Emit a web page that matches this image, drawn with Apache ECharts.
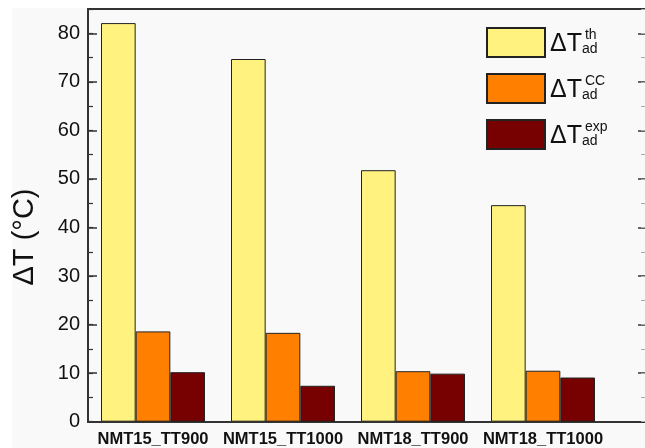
<!DOCTYPE html>
<html>
<head>
<meta charset="utf-8">
<script src="https://cdn.jsdelivr.net/npm/echarts@6/dist/echarts.min.js"></script>
<style>html,body{margin:0;padding:0;background:#fff}#c{width:645px;height:448px}</style>
</head>
<body>
<div id="c"></div>
<script>
var categories = ['NMT15_TT900', 'NMT15_TT1000', 'NMT18_TT900', 'NMT18_TT1000'];
var seriesNames = ['th', 'CC', 'exp'];
var thValues = [82.1, 74.7, 51.8, 44.6];
var ccValues = [18.6, 18.3, 10.4, 10.5];
var expValues = [10.2, 7.4, 9.9, 9.1];
var yMin = 0, yMax = 85, yStep = 10;
var colors = ['#fff27f', '#ff8000', '#770000'];

var FONT = '"Liberation Sans", Arial, sans-serif';
var chart = echarts.init(document.getElementById('c'), null, {renderer: 'canvas'});

var axisLineStyle = {color: '#333', width: 2};
function frameGrid() { return {left: 88, top: 9, right: 0, bottom: 26.3, containLabel: false}; }
function hiddenX(i) {
  return {type: 'value', gridIndex: i, min: 0, max: 1, show: false};
}
function tickY(i, pos, step, len, color, width, showLine) {
  return {type: 'value', gridIndex: i, min: yMin, max: yMax, interval: step, position: pos,
    axisLine: {show: showLine, onZero: false, lineStyle: axisLineStyle},
    axisTick: {show: true, inside: true, length: len, lineStyle: {color: color, width: width}},
    axisLabel: {show: false}, splitLine: {show: false}};
}
var option = {
  backgroundColor: '#ffffff',
  animation: false,
  graphic: [
    {type: 'rect', z: -10, silent: true, shape: {x: 12, y: 8, width: 640, height: 445}, style: {fill: '#f9f9f9'}},
    {type: 'text', x: 25, y: 237, rotation: Math.PI / 2, z: 10,
      style: {text: 'ΔT (°C)', font: '29px ' + FONT, fill: '#111', align: 'center', verticalAlign: 'middle'}}
  ],
  grid: [
    {left: 88, top: 9, width: 520, bottom: 26.3, containLabel: false},
    frameGrid(), frameGrid(), frameGrid()
  ],
  legend: {
    orient: 'vertical', left: 486, top: 27, padding: 0,
    itemWidth: 58, itemHeight: 29, itemGap: 15,
    data: seriesNames,
    icon: 'rect',
    formatter: function (name) {
      return '{d|ΔT}{u|' + name + '}\n{p|}{l|ad}';
    },
    textStyle: {
      padding: [0, 0, 0, 0],
      rich: {
        d: {fontSize: 25, lineHeight: 14, verticalAlign: 'top', fontFamily: FONT, color: '#111', padding: [3, 0, 0, 0]},
        u: {fontSize: 14, lineHeight: 14, fontFamily: FONT, color: '#111', padding: [0, 0, 0, 3]},
        p: {width: 32, lineHeight: 14},
        l: {fontSize: 14, lineHeight: 14, fontFamily: FONT, color: '#111'}
      }
    }
  },
  xAxis: [
    {type: 'category', gridIndex: 0, data: categories, position: 'bottom',
      axisLine: {lineStyle: axisLineStyle}, axisTick: {show: false},
      axisLabel: {interval: 0, fontSize: 16.5, fontWeight: 'bold', fontFamily: FONT, color: '#111', margin: 9},
      splitLine: {show: false}},
    {type: 'value', gridIndex: 1, min: 0, max: 1, position: 'top',
      axisLine: {show: true, onZero: false, lineStyle: axisLineStyle}, axisTick: {show: false},
      axisLabel: {show: false}, splitLine: {show: false}},
    {type: 'value', gridIndex: 2, min: 0, max: 1, position: 'bottom',
      axisLine: {show: true, onZero: false, lineStyle: axisLineStyle}, axisTick: {show: false},
      axisLabel: {show: false}, splitLine: {show: false}},
    hiddenX(3)
  ],
  yAxis: [
    {type: 'value', gridIndex: 0, min: yMin, max: yMax, interval: yStep, position: 'left',
      axisLine: {show: true, lineStyle: axisLineStyle},
      axisTick: {show: true, inside: true, length: 9, lineStyle: {color: '#333', width: 1.5}},
      axisLabel: {fontSize: 20, fontFamily: FONT, color: '#111', margin: 8, showMaxLabel: false},
      splitLine: {show: false}},
    tickY(1, 'left', yStep / 2, 5, '#333', 1.2, false),
    tickY(2, 'right', yStep, 7, '#333', 1.5, false),
    tickY(3, 'right', yStep / 2, 4, '#aaa', 1, false)
  ],
  series: [
    {name: seriesNames[0], type: 'bar', xAxisIndex: 0, yAxisIndex: 0, data: thValues,
      barGap: '0%', barCategoryGap: '20%',
      itemStyle: {color: colors[0], borderColor: '#222', borderWidth: 1}},
    {name: seriesNames[1], type: 'bar', xAxisIndex: 0, yAxisIndex: 0, data: ccValues,
      barGap: '0%', barCategoryGap: '20%',
      itemStyle: {color: colors[1], borderColor: '#222', borderWidth: 1}},
    {name: seriesNames[2], type: 'bar', xAxisIndex: 0, yAxisIndex: 0, data: expValues,
      barGap: '0%', barCategoryGap: '20%',
      itemStyle: {color: colors[2], borderColor: '#222', borderWidth: 1}}
  ]
};
chart.setOption(option);
</script>
</body>
</html>
